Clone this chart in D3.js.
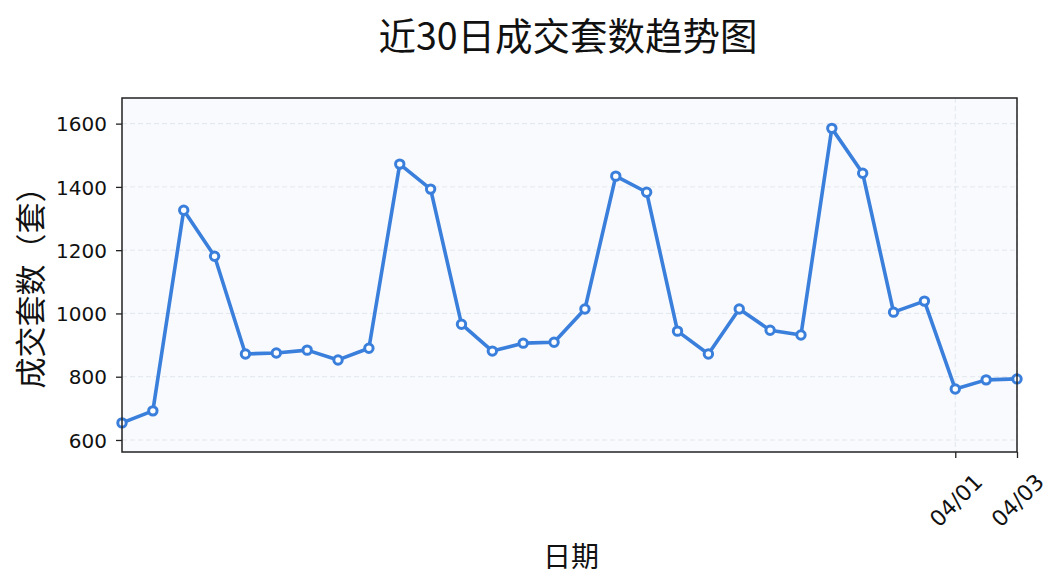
<!DOCTYPE html>
<html><head><meta charset="utf-8">
<script src="https://cdn.jsdelivr.net/npm/d3@7"></script>
<style>
body{margin:0;background:#fff;}
text{font-family:"DejaVu Sans","Noto Sans CJK SC",sans-serif;}
.cjk{font-family:"Noto Sans CJK SC","Liberation Sans",sans-serif;}
</style></head><body>
<svg id="c" width="1064" height="585"></svg>
<script>
const startDate = "2024-03-05";
const values = [654,692,1326,1181,872,875,884,853,890,1472,1393,966,881,906,909,1014,1434,1383,944,872,1014,947,932,1585,1443,1004,1039,761,790,793];
const xTickLabels = ["04/01","04/03"];
const yTicks = [600,800,1000,1200,1400,1600];
const yDomain = [562,1681];
const title = "近30日成交套数趋势图";
const xLabel = "日期";
const yLabel = "成交套数（套）";

const parse = d3.timeParse("%Y-%m-%d");
const fmt = d3.timeFormat("%m/%d");
const t0 = parse(startDate);
const dates = values.map((v,i)=>d3.timeDay.offset(t0,i));
const data = values.map((v,i)=>({d:dates[i],v}));
const tickDates = xTickLabels.map(l=>dates.find(d=>fmt(d)===l));

const svg = d3.select("#c");
const L=122, R=1017, T=98, B=452;
const x = d3.scaleTime().domain([dates[0],dates[dates.length-1]]).range([L,R]);
const y = d3.scaleLinear().domain(yDomain).range([B,T]);

svg.append("rect").attr("x",L).attr("y",T).attr("width",R-L).attr("height",B-T).attr("fill","#f8fafd");

// grid
const g = svg.append("g");
g.selectAll(".hg").data(yTicks).join("line")
 .attr("x1",L).attr("x2",R).attr("y1",d=>y(d)).attr("y2",d=>y(d))
 .attr("stroke","#e2e7ee").attr("stroke-width",1).attr("stroke-dasharray","5,3");
g.selectAll(".vg").data(tickDates).join("line")
 .attr("y1",T).attr("y2",B).attr("x1",d=>x(d)).attr("x2",d=>x(d))
 .attr("stroke","#e2e7ee").attr("stroke-width",1).attr("stroke-dasharray","5,3");

// line
const line = d3.line().x(d=>x(d.d)).y(d=>y(d.v));
svg.append("path").datum(data).attr("d",line).attr("fill","none")
 .attr("stroke","#3a7fdb").attr("stroke-width",3.6).attr("stroke-linejoin","round");
svg.selectAll(".pt").data(data).join("circle")
 .attr("cx",d=>x(d.d)).attr("cy",d=>y(d.v)).attr("r",4.2)
 .attr("fill","#fff").attr("stroke","#3a7fdb").attr("stroke-width",3);

// frame
svg.append("rect").attr("x",L).attr("y",T).attr("width",R-L).attr("height",B-T)
 .attr("fill","none").attr("stroke","#222").attr("stroke-width",1.5);

// y axis
const ya = svg.append("g").attr("transform",`translate(${L},0)`)
 .call(d3.axisLeft(y).tickValues(yTicks).tickSize(6).tickPadding(9).tickFormat(d3.format("d")));
ya.select(".domain").remove();
ya.selectAll(".tick line").attr("stroke","#222").attr("stroke-width",1.3);
ya.selectAll(".tick text").attr("fill","#111").style("font-size","20px").attr("dy","0.36em");

// x axis
const xa = svg.append("g").attr("transform",`translate(0,${B})`)
 .call(d3.axisBottom(x).tickValues(tickDates).tickSize(6).tickFormat(fmt));
xa.select(".domain").remove();
xa.selectAll(".tick line").attr("stroke","#222").attr("stroke-width",1.3);
xa.selectAll(".tick text").attr("fill","#111").style("font-size","22px")
 .attr("text-anchor","middle").attr("y",0).attr("dy","0.36em")
 .each(function(){
   const w=this.getComputedTextLength(); const h=22*0.75;
   const half=(w+h)/Math.SQRT2/2;
   d3.select(this).attr("transform",`translate(0,${20+half}) rotate(-45)`);
 });

// titles
svg.append("text").attr("class","cjk").attr("x",568).attr("y",50).attr("text-anchor","middle")
 .style("font-size","37.5px").attr("fill","#111").text(title);
svg.append("text").attr("class","cjk").attr("x",571).attr("y",567).attr("text-anchor","middle")
 .style("font-size","28px").attr("fill","#111").text(xLabel);
svg.append("text").attr("class","cjk").attr("transform",`translate(42,280) rotate(-90)`).attr("text-anchor","middle")
 .style("font-size","31px").attr("fill","#111").text(yLabel);
</script></body></html>
